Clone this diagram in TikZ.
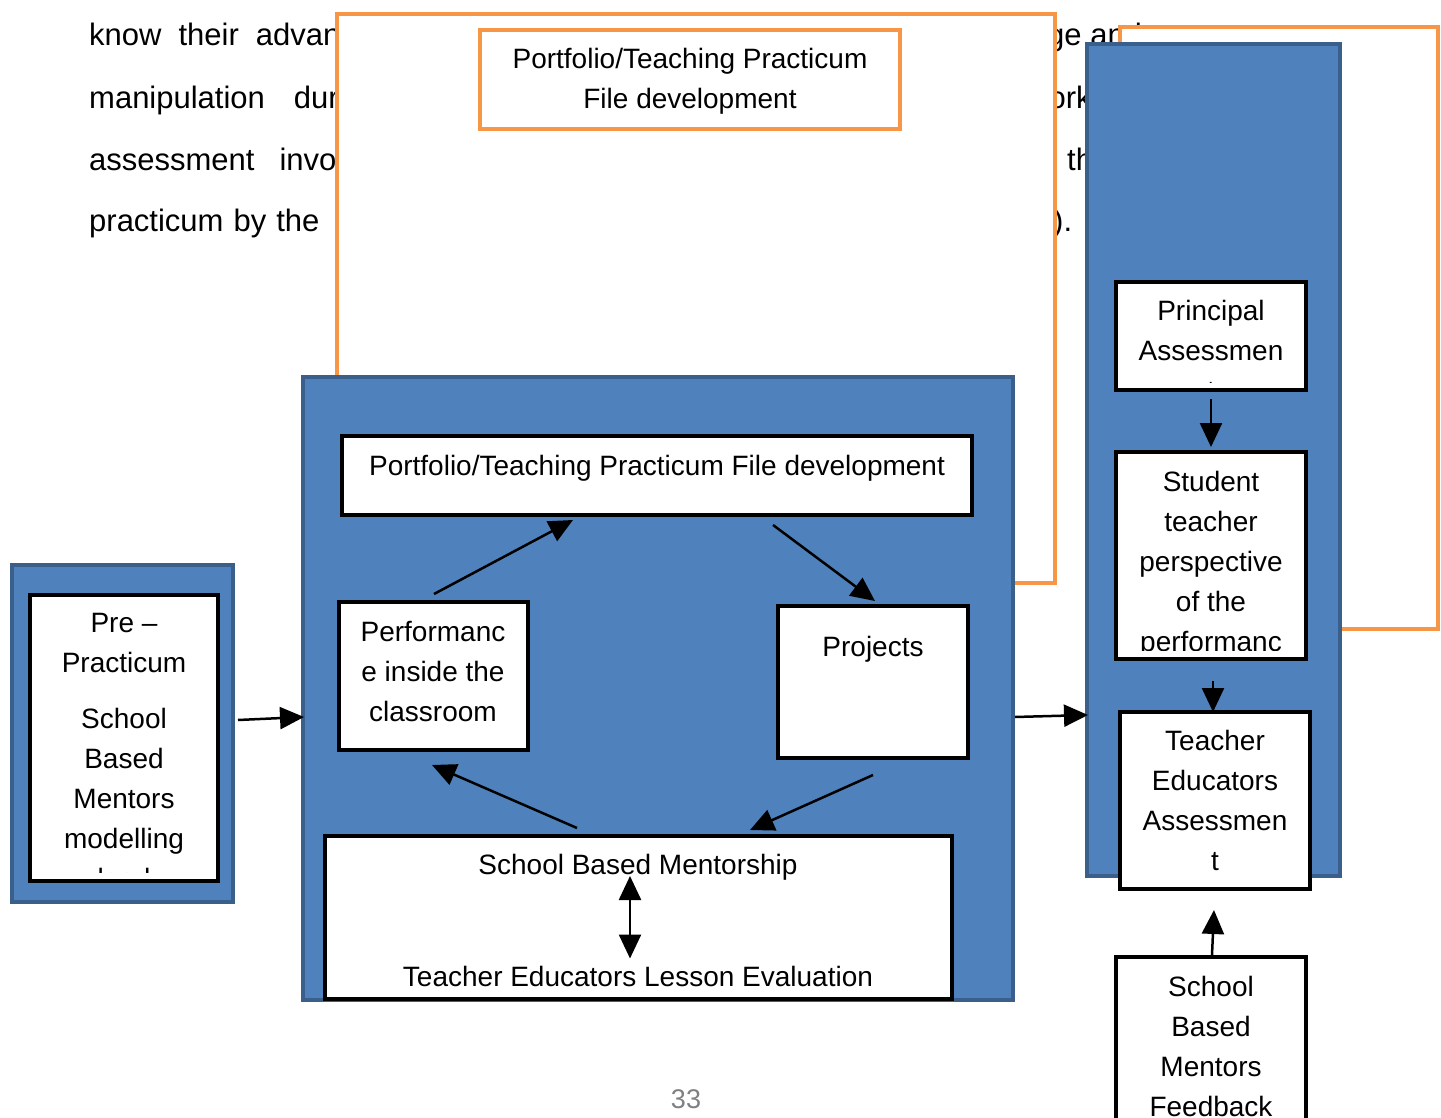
\documentclass[tikz,border=0pt]{standalone}
\usepackage{fontspec}
\setmainfont{Liberation Sans}
\usetikzlibrary{arrows.meta}
\definecolor{bfill}{HTML}{4F81BD}
\definecolor{bline}{HTML}{3A5F8B}
\definecolor{orng}{HTML}{F79646}
\definecolor{pgray}{HTML}{808080}
\tikzset{
  body/.style={anchor=base west, inner sep=0pt, font=\fontsize{31}{37}\selectfont},
  obox/.style={rectangle, draw=orng, fill=white, line width=4.5pt, inner sep=0pt, outer sep=0pt},
  bbox/.style={rectangle, draw=bline, fill=bfill, line width=4pt, inner sep=0pt, outer sep=0pt},
  wbox/.style={rectangle, draw=black, fill=white, line width=4.5pt, inner sep=0pt, outer sep=0pt},
  txt/.style={anchor=north, inner sep=0pt, align=center, font=\fontsize{28}{40}\selectfont},
  arr/.style={line width=2.5pt, -{Triangle[length=24pt,width=22pt]}},
  darr/.style={line width=2.5pt, {Triangle[length=24pt,width=22pt]}-{Triangle[length=24pt,width=22pt]}},
}
\begin{document}
\begin{tikzpicture}[x=1pt,y=-1pt]
\useasboundingbox[fill=white] (0,0) rectangle (1441,1118);

% background body text fragments
\node[body] (l1) at (89,46) {know\hspace{17pt}their\hspace{17pt}advantages};
\node[body] (l2) at (89,109) {manipulation\hspace{29pt}during};
\node[body] (l3) at (89,171) {assessment\hspace{25pt}involves};
\node[body] (l4) at (89,232) {practicum\hspace{10pt}by\hspace{10pt}the};
\node[body] (r1) at (1047,46) {ge and};
\node[body] (r2) at (1026,109) {work};
\node[body] (r3) at (1067,171) {the};
\node[body] (r4) at (1053,232) {).};

% orange boxes
\node[obox, minimum width=718pt, minimum height=569pt] (ob1) at (696,298.5) {};
\node[obox, minimum width=318pt, minimum height=602pt] (ob2) at (1279,328) {};
\node[obox, minimum width=420pt, minimum height=99pt] (ot) at (690,79.5) {};
\node[txt] (otT) at (690,48) {Portfolio/Teaching Practicum\\File development};

% blue boxes
\node[bbox, minimum width=710pt, minimum height=623pt] (bm) at (658,688.5) {};
\node[bbox, minimum width=253pt, minimum height=832pt] (br) at (1213.5,460) {};
\node[bbox, minimum width=221pt, minimum height=337pt] (bl) at (122.5,733.5) {};

% left box
\node[wbox, minimum width=188pt, minimum height=286pt] (pre) at (124,738) {};
\begin{scope}
\clip ([shift={(2.5,2.5)}]pre.north west) rectangle ([shift={(-2.5,-8.5)}]pre.south east);
\node[txt] (preT) at (124,613) {Pre --\\Practicum\\[16pt]School\\Based\\Mentors\\modelling\\lead};
\end{scope}

% middle boxes
\node[wbox, minimum width=630pt, minimum height=79pt] (port) at (657,475.5) {};
\node[txt] (portT) at (657,455) {Portfolio/Teaching Practicum File development};
\node[wbox, minimum width=189pt, minimum height=148pt] (perf) at (433.5,676) {};
\node[txt] (perfT) at (433,621) {Performanc\\e inside the\\classroom};
\node[wbox, minimum width=190pt, minimum height=152pt] (proj) at (873,682) {};
\node[txt] (projT) at (873,636) {Projects};
\node[wbox, minimum width=627pt, minimum height=163pt] (sbm) at (638.5,917.5) {};
\node[txt] (sbmT) at (638,854) {School Based Mentorship};
\node[txt] (sbmB) at (638,966) {Teacher Educators Lesson Evaluation};

% right boxes
\node[wbox, minimum width=190pt, minimum height=108pt] (prin) at (1211,336) {};
\begin{scope}
\clip ([shift={(2.5,2.5)}]prin.north west) rectangle ([shift={(-2.5,-7.5)}]prin.south east);
\node[txt] (prinT) at (1211,300) {Principal\\Assessmen\\t};
\end{scope}
\node[wbox, minimum width=190pt, minimum height=207pt] (stu) at (1211,555.5) {};
\begin{scope}
\clip ([shift={(2.5,2.5)}]stu.north west) rectangle ([shift={(-2.5,-8.5)}]stu.south east);
\node[txt] (stuT) at (1211,471) {Student\\teacher\\perspective\\of the\\performanc\\e};
\end{scope}
\node[wbox, minimum width=190pt, minimum height=177pt] (tea) at (1215,800.5) {};
\node[txt] (teaT) at (1215,730) {Teacher\\Educators\\Assessmen\\t};
\node[wbox, minimum width=190pt, minimum height=201pt] (sbf) at (1211,1057.5) {};
\node[txt] (sbfT) at (1211,976) {School\\Based\\Mentors\\Feedback};

% connectors
\draw[arr] ([shift={(5,-13.5)}]bl.east) -- ([shift={(1,28.5)}]bm.west);
\draw[arr] ([shift={(2,28.5)}]bm.east) -- ([shift={(1,255)}]br.west);
\draw[arr] ([shift={(0.5,-8)}]perf.north) -- ([shift={(-84,5)}]port.south);
\draw[arr] ([shift={(116,10)}]port.south) -- ([shift={(2,-5)}]proj.north);
\draw[arr] ([shift={(0,17)}]proj.south) -- ([shift={(111.5,-6)}]sbm.north);
\draw[arr] ([shift={(-61.5,-8)}]sbm.north) -- ([shift={(-1.5,15)}]perf.south);
\draw[darr] ([shift={(-8.5,-41.5)}]sbm.center) -- ([shift={(-8.5,41)}]sbm.center);
\draw[arr] ([shift={(0,9)}]prin.south) -- ([shift={(0,-5)}]stu.north);
\draw[arr] ([shift={(2,22)}]stu.south) -- ([shift={(-2,0)}]tea.north);
\draw[arr] ([shift={(1,-2)}]sbf.north) -- ([shift={(-1,21)}]tea.south);

% page number
\node[font=\fontsize{27}{30}\selectfont, text=pgray, inner sep=0pt] (pg) at (686,1099) {33};
\end{tikzpicture}
\end{document}
